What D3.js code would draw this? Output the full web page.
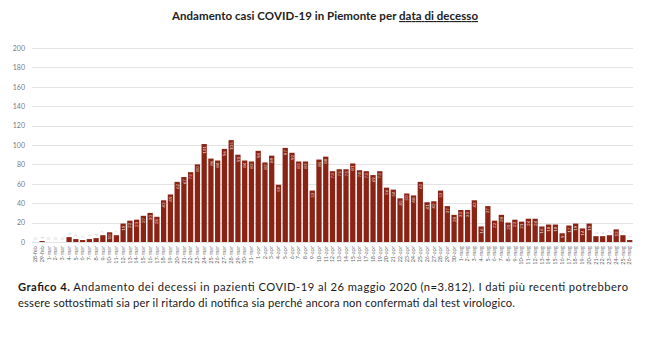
<!DOCTYPE html>
<html><head><meta charset="utf-8">
<script src="https://cdn.jsdelivr.net/npm/d3@7"></script>
<style>body{margin:0;background:#fff}svg{display:block}</style>
</head><body><svg id="c" width="650" height="355"></svg>
<script>
const dates = ["28-feb","29-feb",
"1-mar","2-mar","3-mar","4-mar","5-mar","6-mar","7-mar","8-mar","9-mar","10-mar","11-mar","12-mar","13-mar","14-mar","15-mar","16-mar","17-mar","18-mar","19-mar","20-mar","21-mar","22-mar","23-mar","24-mar","25-mar","26-mar","27-mar","28-mar","29-mar","30-mar","31-mar",
"1-apr","2-apr","3-apr","4-apr","5-apr","6-apr","7-apr","8-apr","9-apr","10-apr","11-apr","12-apr","13-apr","14-apr","15-apr","16-apr","17-apr","18-apr","19-apr","20-apr","21-apr","22-apr","23-apr","24-apr","25-apr","26-apr","27-apr","28-apr","29-apr","30-apr",
"1-mag","2-mag","3-mag","4-mag","5-mag","6-mag","7-mag","8-mag","9-mag","10-mag","11-mag","12-mag","13-mag","14-mag","15-mag","16-mag","17-mag","18-mag","19-mag","20-mag","21-mag","22-mag","23-mag","24-mag","25-mag","26-mag"];
const deaths = [0,1,
0,0,0,5,3,2,3,4,7,10,7,19,22,23,27,30,26,43,49,62,67,72,80,101,86,84,96,105,90,84,83,
94,82,89,59,97,92,83,83,53,85,88,73,75,75,81,74,73,69,73,56,54,45,50,48,62,41,42,53,37,28,
33,33,43,16,37,22,28,20,23,21,24,24,16,18,18,9,17,19,14,19,6,6,7,13,7,2];
const yTicks = [0,20,40,60,80,100,120,140,160,180,200];
const titleText = "Andamento casi COVID-19 in Piemonte per ";
const titleUnderlined = "data di decesso";
const captionBold = "Grafico 4.";
const captionLine1 = " Andamento dei decessi in pazienti COVID-19 al 26 maggio 2020 (n=3.812). I dati più recenti potrebbero";
const captionLine2 = "essere sottostimati sia per il ritardo di notifica sia perché ancora non confermati dal test virologico.";

const svg = d3.select("#c");
const font = "Lato, 'Open Sans', sans-serif";
const x = d3.scaleBand().domain(dates).range([32, 633]).paddingInner(0.22).paddingOuter(0.1);
const y = d3.scaleLinear().domain([0, 200]).range([242, 48]);

// grid
svg.append("g").selectAll("line").data(yTicks).join("line")
  .attr("x1", 32).attr("x2", 633)
  .attr("y1", d => Math.round(y(d)) + 0.5).attr("y2", d => Math.round(y(d)) + 0.5)
  .attr("stroke", "#e3e3e3").attr("stroke-width", 1);

// y labels
const ya = svg.append("g").attr("transform", "translate(32,0)")
  .call(d3.axisLeft(y).tickValues(yTicks).tickSize(0).tickPadding(7));
ya.select(".domain").remove();
ya.selectAll("text").attr("font-family", font).attr("font-size", 7).attr("fill", "#7a7a7a");

// bars
svg.append("g").selectAll("rect").data(deaths).join("rect")
  .attr("x", (d, i) => x(dates[i])).attr("width", x.bandwidth())
  .attr("y", d => y(d)).attr("height", d => y(0) - y(d))
  .attr("fill", "#8a2314");

// value labels
svg.append("g").selectAll("text").data(deaths).join("text")
  .attr("transform", (d, i) => {
    const cx = x(dates[i]) + x.bandwidth() / 2 + 1.6;
    const ty = d >= 8 ? y(d) + 2 : y(d) - 2;
    return `translate(${cx},${ty}) rotate(-90)`;
  })
  .attr("text-anchor", d => d >= 8 ? "end" : "start")
  .attr("font-family", font).attr("font-size", 4.5)
  .attr("fill", d => d >= 8 ? "#f3dcd6" : "#c8c8c8")
  .text(d => d);

// x labels
const xa = svg.append("g").attr("transform", "translate(0,243)")
  .call(d3.axisBottom(x).tickSize(0).tickPadding(2));
xa.select(".domain").remove();
xa.selectAll("text").attr("font-family", font).attr("font-size", 5.5).attr("fill", "#666")
  .attr("text-anchor", "end").attr("dx", "-0.2em").attr("dy", "0.32em")
  .attr("transform", "rotate(-90)").attr("x", -2).attr("y", 0);

// title
const t = svg.append("text").attr("x", 172).attr("y", 20)
  .attr("font-family", font).attr("font-weight", "bold").attr("font-size", 11.5).attr("fill", "#222")
  .attr("textLength", 306).attr("lengthAdjust", "spacing");
t.append("tspan").text(titleText);
t.append("tspan").attr("text-decoration", "underline").text(titleUnderlined);

// caption
const c1 = svg.append("text").attr("x", 18).attr("y", 291)
  .attr("font-family", font).attr("font-size", 11.2).attr("fill", "#1a1a1a")
  .attr("textLength", 610).attr("lengthAdjust", "spacing");
c1.append("tspan").attr("font-weight", "bold").text(captionBold);
c1.append("tspan").text(captionLine1);
svg.append("text").attr("x", 18).attr("y", 307)
  .attr("font-family", font).attr("font-size", 11.2).attr("fill", "#1a1a1a")
  .attr("textLength", 497).attr("lengthAdjust", "spacing")
  .text(captionLine2);
</script></body></html>
